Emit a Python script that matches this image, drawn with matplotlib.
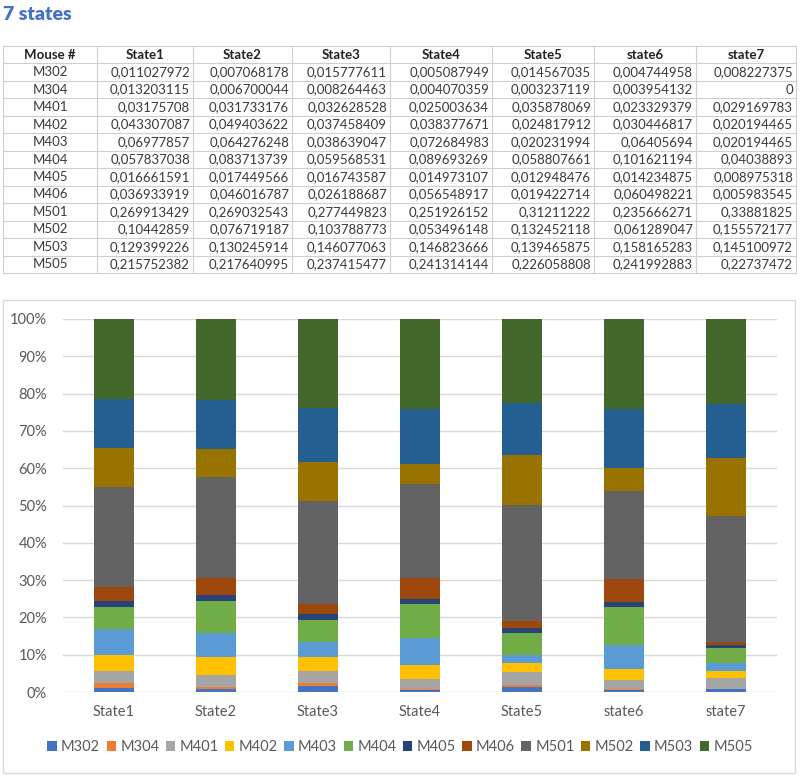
import numpy as np
import matplotlib
matplotlib.use("Agg")
import matplotlib.pyplot as plt
from matplotlib.patches import Rectangle, Patch

plt.rcParams['font.family'] = ['Lato', 'DejaVu Sans']

mice = ["M302", "M304", "M401", "M402", "M403", "M404", "M405", "M406",
        "M501", "M502", "M503", "M505"]
states = ["State1", "State2", "State3", "State4", "State5", "state6", "state7"]

state1 = [0.011027972, 0.013203115, 0.03175708, 0.043307087, 0.06977857, 0.057837038,
          0.016661591, 0.036933919, 0.269913429, 0.10442859, 0.129399226, 0.215752382]
state2 = [0.007068178, 0.006700044, 0.031733176, 0.049403622, 0.064276248, 0.083713739,
          0.017449566, 0.046016787, 0.269032543, 0.076719187, 0.130245914, 0.217640995]
state3 = [0.015777611, 0.008264463, 0.032628528, 0.037458409, 0.038639047, 0.059568531,
          0.016743587, 0.026188687, 0.277449823, 0.103788773, 0.146077063, 0.237415477]
state4 = [0.005087949, 0.004070359, 0.025003634, 0.038377671, 0.072684983, 0.089693269,
          0.014973107, 0.056548917, 0.251926152, 0.053496148, 0.146823666, 0.241314144]
state5 = [0.014567035, 0.003237119, 0.035878069, 0.024817912, 0.020231994, 0.058807661,
          0.012948476, 0.019422714, 0.31211222, 0.132452118, 0.139465875, 0.226058808]
state6 = [0.004744958, 0.003954132, 0.023329379, 0.030446817, 0.06405694, 0.101621194,
          0.014234875, 0.060498221, 0.235666271, 0.061289047, 0.158165283, 0.241992883]
state7 = [0.008227375, 0, 0.029169783, 0.020194465, 0.020194465, 0.04038893,
          0.008975318, 0.005983545, 0.33881825, 0.155572177, 0.145100972, 0.22737472]

colors = ["#4472C4", "#ED7D31", "#A5A5A5", "#FFC000", "#5B9BD5", "#70AD47",
          "#264478", "#9E480E", "#636363", "#997300", "#255E91", "#43682B"]

cols = [state1, state2, state3, state4, state5, state6, state7]
vals = np.array(cols, dtype=float).T  # mice x states

W, H = 800, 776
fig = plt.figure(figsize=(W / 100, H / 100), dpi=100)

# Overlay axes in pixel coordinates for title, table, chart frame
ov = fig.add_axes([0, 0, 1, 1])
ov.set_xlim(0, W)
ov.set_ylim(H, 0)
ov.axis("off")

ov.text(3, 14, "7 states", fontsize=14, fontweight="heavy", color="#4472C4",
        ha="left", va="center")

# Table
col_edges = [3, 97, 193, 292, 390, 492, 594, 696, 796]
top, bottom = 46, 273
nrows = len(mice) + 1
rh = (bottom - top) / nrows
line_c = "#CFCFCF"
for r in range(nrows + 1):
    y = top + r * rh
    ov.plot([col_edges[0], col_edges[-1]], [y, y], color=line_c, lw=0.8)
for x in col_edges:
    ov.plot([x, x], [top, bottom], color=line_c, lw=0.8)

headers = ["Mouse #"] + states
tfs = 9.5
for c, h in enumerate(headers):
    xc = (col_edges[c] + col_edges[c + 1]) / 2
    ov.text(xc, top + rh / 2, h, fontsize=tfs, fontweight="bold", color="#222222",
            ha="center", va="center")


def fmt(v):
    if v == 0:
        return "0"
    return repr(float(v)).replace(".", ",")


for r, m in enumerate(mice):
    yc = top + (r + 1.5) * rh
    ov.text((col_edges[0] + col_edges[1]) / 2, yc, m, fontsize=tfs, color="#3A3A3A",
            ha="center", va="center")
    for c in range(len(states)):
        ov.text(col_edges[c + 2] - 3, yc, fmt(cols[c][r]), fontsize=tfs, color="#3A3A3A",
                ha="right", va="center")

# Chart frame
ov.add_patch(Rectangle((3, 300), 792, 473, fill=False, edgecolor="#D9D9D9", lw=1))

# Chart axes
left, right = 63, 777
y0, y100 = 692, 319
ax = fig.add_axes([left / W, (H - y0) / H, (right - left) / W, (y0 - y100) / H])
pct = vals / vals.sum(axis=0, keepdims=True) * 100
x = np.arange(len(states))
bottoms = np.zeros(len(states))
for i, m in enumerate(mice):
    ax.bar(x, pct[i], 0.4, bottom=bottoms, color=colors[i], label=m, zorder=3)
    bottoms += pct[i]

ax.set_xlim(-0.5, len(states) - 0.5)
ax.set_ylim(0, 100)
ax.set_yticks(np.arange(0, 101, 10))
ax.set_yticklabels([f"{v}%" for v in range(0, 101, 10)])
ax.set_xticks(x)
ax.set_xticklabels(states)
ax.yaxis.grid(True, color="#D9D9D9", lw=1, zorder=0)
for s in ax.spines.values():
    s.set_visible(False)
ax.tick_params(axis="both", length=0, labelsize=10.5, labelcolor="#595959")
ax.tick_params(axis="y", pad=11.5)
ax.tick_params(axis="x", pad=9)
ax.set_facecolor("none")

handles = [Patch(facecolor=c, label=m) for c, m in zip(colors, mice)]
fig.legend(handles=handles, loc="center", bbox_to_anchor=(0.5, (H - 747) / H), ncol=12,
           frameon=False, fontsize=10.5, handlelength=0.65, handleheight=0.65,
           handletextpad=0.3, columnspacing=0.43, labelcolor="#595959")

fig.savefig("out.png", dpi=100)
